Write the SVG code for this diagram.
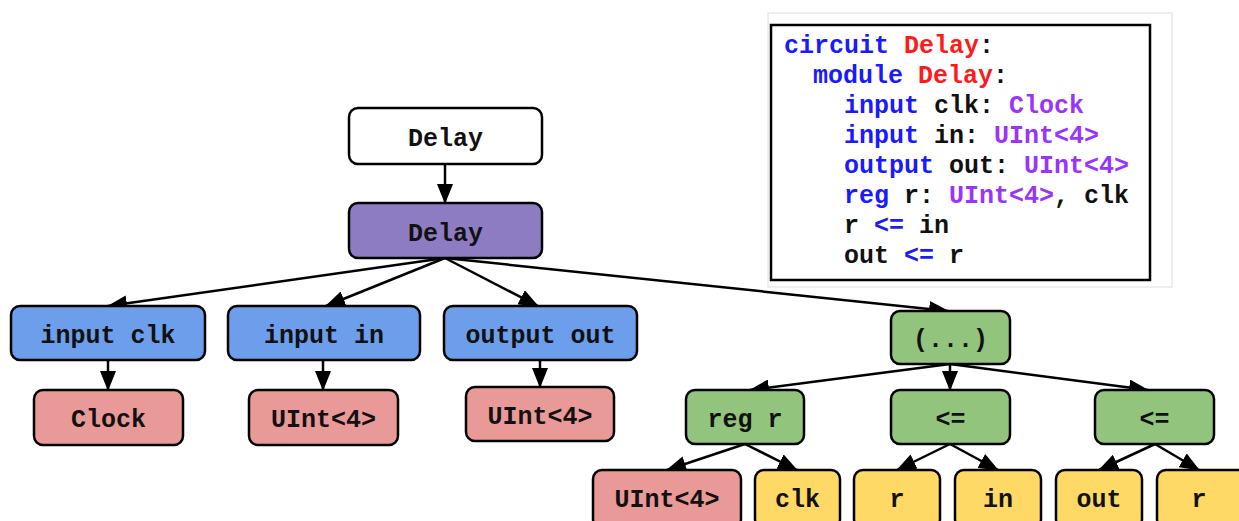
<svg xmlns="http://www.w3.org/2000/svg" width="1239" height="521" viewBox="0 0 1239 521">
<defs>
<marker id="ah" viewBox="0 0 20 16" refX="19" refY="8" markerWidth="20" markerHeight="16" orient="auto" markerUnits="userSpaceOnUse">
<path d="M0,0 L20,8 L0,16 z" fill="#000"/>
</marker>
<style>
.n{stroke:#000;stroke-width:2.5}
.w{fill:#fff}.p{fill:#8e7cc3}.b{fill:#6d9eeb}.r{fill:#ea9999}.g{fill:#93c47d}.y{fill:#ffd966}
.t{font-family:"Courier New","Liberation Mono",monospace;font-weight:bold;font-size:25px;fill:#111;text-anchor:middle}
.e{stroke:#000;stroke-width:2.5;fill:none;marker-end:url(#ah)}
.c{font-family:"Courier New","Liberation Mono",monospace;font-weight:bold;font-size:25px;fill:#111}
.kw{fill:#1a1aff}.nm{fill:#ff1a1a}.ty{fill:#9933ff}
</style>
</defs>
<rect width="1239" height="521" fill="#fff"/>

<g id="code">
<rect x="768" y="13" width="404" height="274" fill="#fff" stroke="#ddd" stroke-width="1"/>
<rect x="771" y="25" width="379" height="255" fill="#fff" stroke="#000" stroke-width="2.5"/>
<text class="c" x="784" y="53"><tspan class="kw">circuit</tspan> <tspan class="nm">Delay</tspan>:</text>
<text class="c" x="813" y="83"><tspan class="kw">module</tspan> <tspan class="nm">Delay</tspan>:</text>
<text class="c" x="844" y="113"><tspan class="kw">input</tspan> clk: <tspan class="ty">Clock</tspan></text>
<text class="c" x="844" y="143"><tspan class="kw">input</tspan> in: <tspan class="ty">UInt&lt;4&gt;</tspan></text>
<text class="c" x="844" y="173"><tspan class="kw">output</tspan> out: <tspan class="ty">UInt&lt;4&gt;</tspan></text>
<text class="c" x="844" y="203"><tspan class="kw">reg</tspan> r: <tspan class="ty">UInt&lt;4&gt;</tspan>, clk</text>
<text class="c" x="844" y="233">r <tspan class="kw">&lt;=</tspan> in</text>
<text class="c" x="844" y="263">out <tspan class="kw">&lt;=</tspan> r</text>
</g>

<g id="edges">
<line class="e" x1="445" y1="164" x2="445" y2="203"/>
<line class="e" x1="445" y1="258" x2="108" y2="306"/>
<line class="e" x1="445" y1="258" x2="326" y2="306"/>
<line class="e" x1="445" y1="258" x2="538" y2="306"/>
<line class="e" x1="445" y1="258" x2="948" y2="311"/>
<line class="e" x1="108" y1="360" x2="108" y2="390"/>
<line class="e" x1="323" y1="360" x2="323" y2="390"/>
<line class="e" x1="540" y1="360" x2="540" y2="387"/>
<line class="e" x1="950" y1="364" x2="750" y2="390"/>
<line class="e" x1="950" y1="364" x2="950" y2="390"/>
<line class="e" x1="950" y1="364" x2="1148" y2="390"/>
<line class="e" x1="745" y1="444" x2="667" y2="470"/>
<line class="e" x1="745" y1="444" x2="797" y2="470"/>
<line class="e" x1="950" y1="444" x2="897" y2="470"/>
<line class="e" x1="950" y1="444" x2="998" y2="470"/>
<line class="e" x1="1155" y1="444" x2="1099" y2="470"/>
<line class="e" x1="1155" y1="444" x2="1199" y2="470"/>
</g>

<g id="n-top"><rect class="n w" x="349" y="108" width="193" height="56" rx="9"/><text class="t" x="445.5" y="146">Delay</text></g>
<g id="n-module"><rect class="n p" x="349" y="203" width="193" height="55" rx="9"/><text class="t" x="445.5" y="241">Delay</text></g>
<g id="n-clk"><rect class="n b" x="11" y="306" width="194" height="54" rx="9"/><text class="t" x="108" y="343">input clk</text></g>
<g id="n-in"><rect class="n b" x="228" y="306" width="192" height="54" rx="9"/><text class="t" x="324" y="343">input in</text></g>
<g id="n-out"><rect class="n b" x="444" y="306" width="193" height="54" rx="9"/><text class="t" x="540.5" y="343">output out</text></g>
<g id="n-clock"><rect class="n r" x="34" y="390" width="149" height="55" rx="9"/><text class="t" x="108.5" y="427">Clock</text></g>
<g id="n-uint1"><rect class="n r" x="249" y="390" width="149" height="55" rx="9"/><text class="t" x="323.5" y="427">UInt&lt;4&gt;</text></g>
<g id="n-uint2"><rect class="n r" x="466" y="387" width="148" height="54" rx="9"/><text class="t" x="540" y="424">UInt&lt;4&gt;</text></g>
<g id="n-stmts"><rect class="n g" x="891" y="311" width="119" height="53" rx="9"/><text class="t" x="950.5" y="347">(...)</text></g>
<g id="n-reg"><rect class="n g" x="686" y="390" width="118" height="54" rx="9"/><text class="t" x="745" y="427">reg r</text></g>
<g id="n-conn1"><rect class="n g" x="891" y="390" width="119" height="54" rx="9"/><text class="t" x="950.5" y="427">&lt;=</text></g>
<g id="n-conn2"><rect class="n g" x="1095" y="390" width="119" height="54" rx="9"/><text class="t" x="1154.5" y="427">&lt;=</text></g>
<g id="n-uint3"><rect class="n r" x="593" y="470" width="148" height="58" rx="9"/><text class="t" x="667" y="507">UInt&lt;4&gt;</text></g>
<g id="n-clkref"><rect class="n y" x="755" y="470" width="85" height="58" rx="9"/><text class="t" x="797.5" y="507">clk</text></g>
<g id="n-r1"><rect class="n y" x="854" y="470" width="86" height="58" rx="9"/><text class="t" x="897" y="507">r</text></g>
<g id="n-inref"><rect class="n y" x="955" y="470" width="86" height="58" rx="9"/><text class="t" x="998" y="507">in</text></g>
<g id="n-outref"><rect class="n y" x="1056" y="470" width="86" height="58" rx="9"/><text class="t" x="1099" y="507">out</text></g>
<g id="n-r2"><rect class="n y" x="1157" y="470" width="90" height="58" rx="9"/><text class="t" x="1199" y="507">r</text></g>
</svg>
